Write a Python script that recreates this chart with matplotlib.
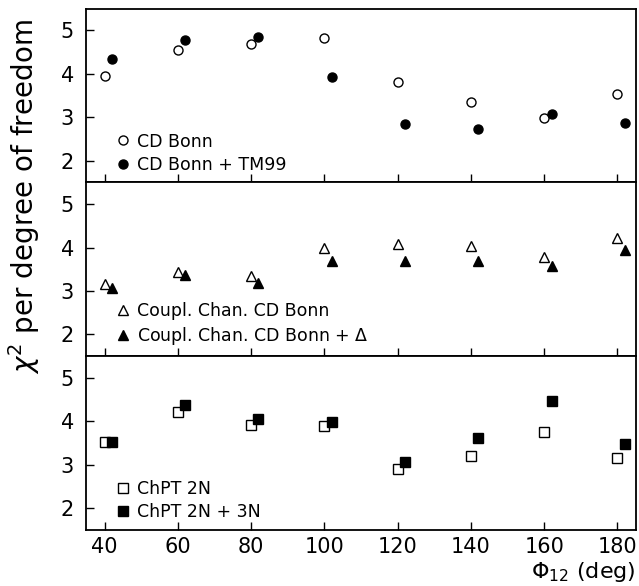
import matplotlib
matplotlib.use("Agg")
import matplotlib.pyplot as plt

# angles (deg); second model shifted by +2 deg in the original plot
phi = [40, 60, 80, 100, 120, 140, 160, 180]
phi_shift = [42, 62, 82, 102, 122, 142, 162, 182]

# panel 1 - CD Bonn
cdbonn = [3.96, 4.56, 4.69, 4.83, 3.81, 3.36, 2.98, 3.53]
cdbonn_tm99 = [4.35, 4.77, 4.84, 3.93, 2.85, 2.73, 3.08, 2.86]

# panel 2 - coupled channel
cc_bonn = [3.15, 3.44, 3.34, 4.00, 4.09, 4.03, 3.78, 4.22]
cc_bonn_delta = [3.06, 3.36, 3.19, 3.68, 3.70, 3.68, 3.58, 3.94]

# panel 3 - ChPT
chpt_2n = [3.51, 4.21, 3.91, 3.90, 2.91, 3.20, 3.74, 3.16]
chpt_3n = [3.52, 4.37, 4.06, 3.99, 3.06, 3.61, 4.46, 3.47]

plt.rcParams['font.family'] = ['DejaVu Sans']

fig, axes = plt.subplots(3, 1, figsize=(6.39, 5.86), dpi=100, sharex=True)
fig.subplots_adjust(left=0.135, right=0.995, top=0.985, bottom=0.096, hspace=0)

panels = [
    (cdbonn, cdbonn_tm99, 'o', 'CD Bonn', 'CD Bonn + TM99'),
    (cc_bonn, cc_bonn_delta, '^', 'Coupl. Chan. CD Bonn', r'Coupl. Chan. CD Bonn + $\Delta$'),
    (chpt_2n, chpt_3n, 's', 'ChPT 2N', 'ChPT 2N + 3N'),
]

for ax, (open_vals, filled_vals, mk, lab1, lab2) in zip(axes, panels):
    ax.plot(phi, open_vals, ls='none', marker=mk, ms=6.5, mfc='white', mec='black', mew=1.0, label=lab1)
    ax.plot(phi_shift, filled_vals, ls='none', marker=mk, ms=6.5, mfc='black', mec='black', label=lab2)
    ax.set_ylim(1.5, 5.5)
    ax.set_xlim(35, 185)
    ax.set_yticks([2, 3, 4, 5])
    ax.set_xticks(phi)
    ax.tick_params(direction='in', length=6, width=1, labelsize=15, top=False, right=False, pad=5)
    ax.tick_params(axis='y', pad=9)
    for s in ax.spines.values():
        s.set_linewidth(1.3)
    ax.legend(loc='lower left', frameon=False, fontsize=12.5, handletextpad=0.3,
              borderaxespad=0.1, labelspacing=0.3, handlelength=1.0,
              bbox_to_anchor=(0.035, 0.0))

fig.text(0.038, 0.664, r'$\chi^2$ per degree of freedom', rotation=90,
         ha='center', va='center', fontsize=20)
fig.text(0.995, 0.004, r'$\Phi_{12}$ (deg)', ha='right', va='bottom', fontsize=16)

plt.savefig("out.png", dpi=100)
